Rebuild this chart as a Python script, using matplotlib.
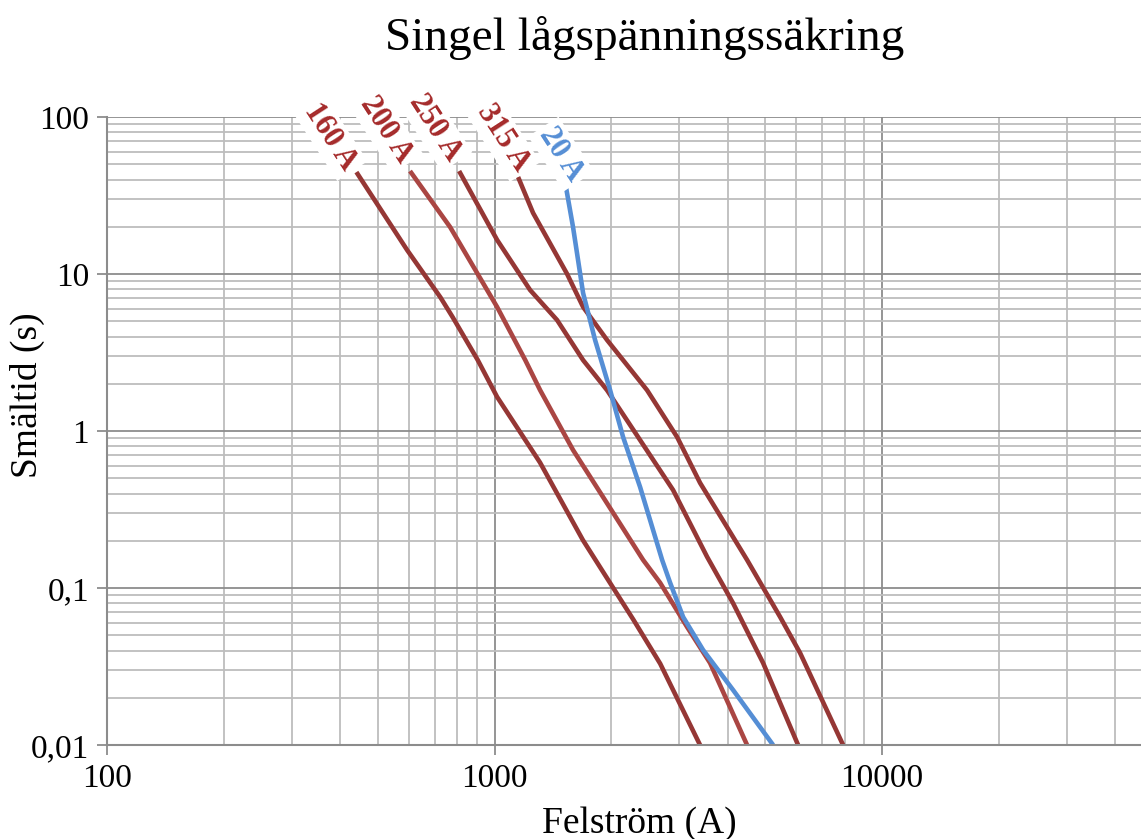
import matplotlib.pyplot as plt
from matplotlib.ticker import FixedLocator, FixedFormatter, LogLocator, NullFormatter

# smältkurvor, ström (A) och tid (s)
i160 = [440, 595, 725, 780, 905, 1015, 1310, 1690, 1985, 2280, 2675, 3390]
t160 = [44.6, 14.2, 7.1, 5.3, 2.83, 1.65, 0.63, 0.202, 0.108, 0.063, 0.033, 0.01]

i200 = [605, 768, 1015, 1200, 1311, 1594, 1905, 2417, 2674, 3140, 3598, 4483]
t200 = [45.3, 19.9, 6.17, 2.83, 1.82, 0.757, 0.38, 0.151, 0.108, 0.0564, 0.0333, 0.01]

i250 = [810, 1015, 1235, 1450, 1692, 1951, 2374, 2888, 3535, 4126, 4931, 6070]
t250 = [45.3, 16.5, 7.91, 5.09, 2.83, 1.82, 0.876, 0.421, 0.158, 0.080, 0.0333, 0.01]

i315 = [1150, 1257, 1539, 1692, 1951, 2475, 2958, 3391, 4483, 5456, 6142, 7931]
t315 = [41.5, 24.5, 10, 6.17, 3.8, 1.82, 0.916, 0.467, 0.151, 0.0654, 0.0386, 0.01]

i20 = [1530, 1594, 1692, 1817, 1987, 2146, 2374, 2706, 2838, 3066, 3452, 4126, 5233]
t20 = [35.3, 19.9, 7.57, 3.8, 1.82, 0.916, 0.44, 0.151, 0.108, 0.0654, 0.0403, 0.0224, 0.01]

yticks = [0.01, 0.1, 1, 10, 100]
ylabels = ["0,01", "0,1", "1", "10", "100"]
xticks = [100, 1000, 10000]
xlabels = ["100", "1000", "10000"]

mork = "#953735"
ljus = "#AA4643"
bla = "#558ED5"

plt.rcParams['font.family'] = ['Liberation Serif', 'DejaVu Serif']

fig = plt.figure(figsize=(11.41, 8.39), dpi=100)
ax = fig.add_axes([0.0938, 0.112, 0.9062, 0.7485])
ax.set_xscale('log')
ax.set_yscale('log')
ax.set_xlim(100, 46560)
ax.set_ylim(0.01, 100)

ax.xaxis.set_major_locator(FixedLocator(xticks))
ax.xaxis.set_major_formatter(FixedFormatter(xlabels))
ax.yaxis.set_major_locator(FixedLocator(yticks))
ax.yaxis.set_major_formatter(FixedFormatter(ylabels))
ax.xaxis.set_minor_locator(LogLocator(base=10, subs=range(2, 10), numticks=20))
ax.yaxis.set_minor_locator(LogLocator(base=10, subs=range(2, 10), numticks=20))
ax.xaxis.set_minor_formatter(NullFormatter())
ax.yaxis.set_minor_formatter(NullFormatter())

ax.grid(True, which='major', color='#8c8c8c', lw=1.3)
ax.grid(True, which='minor', color='#bdbdbd', lw=1.3)
ax.set_axisbelow(True)
ax.tick_params(which='major', direction='out', length=7, width=1.3, color='#8c8c8c',
               labelsize=24, pad=6)
ax.tick_params(which='minor', length=0)
for s in ['top', 'right']:
    ax.spines[s].set_visible(False)
for s in ['left', 'bottom']:
    ax.spines[s].set_color('#8c8c8c')
    ax.spines[s].set_linewidth(1.5)

kurvor = [(i160, t160, mork, "160 A", (-26, 35)),
          (i200, t200, ljus, "200 A", (-24, 41)),
          (i250, t250, mork, "250 A", (-24, 43)),
          (i315, t315, mork, "315 A", (-15, 39)),
          (i20, t20, bla, "20 A", (-5, 34))]

for ii, tt, c, namn, off in kurvor:
    ax.plot(ii, tt, color=c, lw=3.3, solid_capstyle='butt')
    tc = "#A52A2A" if c != bla else bla
    ax.annotate(namn, (ii[0], tt[0]), xytext=off, textcoords='offset pixels',
                ha='center', va='center', rotation=-57, fontsize=22,
                fontweight='bold', color=tc, annotation_clip=False,
                bbox=dict(boxstyle='square,pad=0.12', fc='white', ec='none'))

fig.text(0.565, 0.955, "Singel lågspänningssäkring", ha='center', va='center', fontsize=34)
ax.set_xlabel("Felström (A)", fontsize=27)
ax.xaxis.set_label_coords(0.515, -0.098)
ax.set_ylabel("Smältid (s)", fontsize=27)
ax.yaxis.set_label_coords(-0.06, 0.557)

fig.savefig("out.png", dpi=100)
